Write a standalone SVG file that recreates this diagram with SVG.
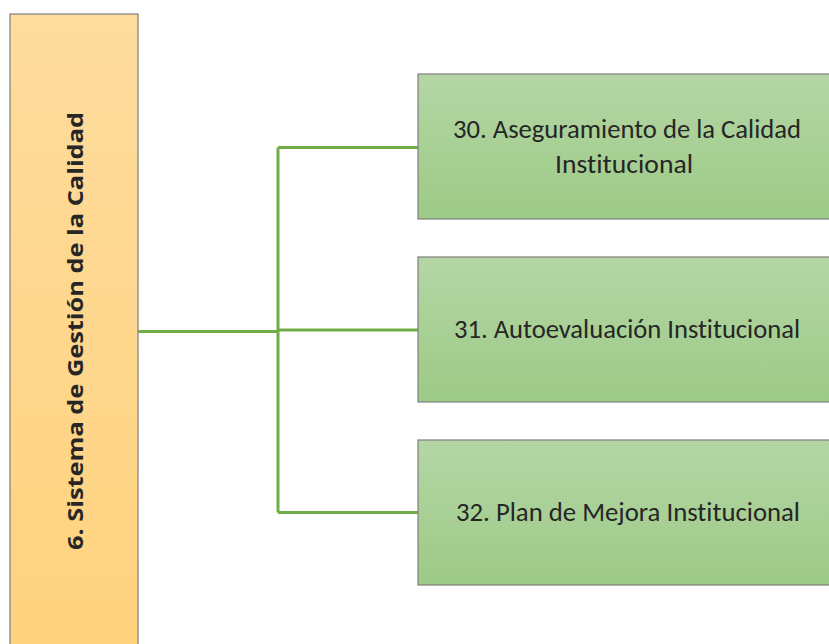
<svg xmlns="http://www.w3.org/2000/svg" width="829" height="644" viewBox="0 0 829 644">
  <defs>
    <linearGradient id="gOrange" x1="0" y1="0" x2="0" y2="1">
      <stop offset="0" stop-color="#FEDC9E"/>
      <stop offset="1" stop-color="#FFD27D"/>
    </linearGradient>
    <linearGradient id="gGreen" x1="0" y1="0" x2="0" y2="1">
      <stop offset="0" stop-color="#B4D6A5"/>
      <stop offset="1" stop-color="#9DCA86"/>
    </linearGradient>
  </defs>
  <style>
    .box { stroke: #7F7F7F; stroke-width: 1.2; }
    .lbl { font-family: Carlito, Lato, "Open Sans", sans-serif; font-size: 26px; fill: #262626; text-anchor: middle; font-variant-ligatures: none; }
    .vlbl { font-family: "Open Sans", "Noto Sans", sans-serif; font-weight: bold; font-size: 21px; fill: #262626; text-anchor: middle; }
    .conn { fill: none; stroke: #70AD47; stroke-width: 3; }
  </style>
  <rect width="829" height="644" fill="#FFFFFF"/>
  <g id="connectors">
    <path class="conn" d="M138,331.5 H278" stroke-width="3.5"/>
    <path class="conn" d="M278,147.5 V512.5"/>
    <path class="conn" d="M278,147.5 H418"/>
    <path class="conn" d="M278,330 H418"/>
    <path class="conn" d="M278,512.5 H418"/>
  </g>
  <g id="node6">
    <rect class="box" x="10" y="14" width="128" height="640" fill="url(#gOrange)"/>
    <text class="vlbl" transform="translate(83,331) rotate(-90)" x="0" y="0" textLength="438" lengthAdjust="spacingAndGlyphs">6. Sistema de Gestión de la Calidad</text>
  </g>
  <g id="node30">
    <rect class="box" x="418" y="74" width="430" height="145" fill="url(#gGreen)"/>
    <text class="lbl" x="627" y="138" textLength="348" lengthAdjust="spacingAndGlyphs">30. Aseguramiento de la Calidad</text>
    <text class="lbl" x="624" y="173" textLength="138" lengthAdjust="spacingAndGlyphs">Institucional</text>
  </g>
  <g id="node31">
    <rect class="box" x="418" y="257" width="430" height="145" fill="url(#gGreen)"/>
    <text class="lbl" x="627" y="338" textLength="346" lengthAdjust="spacingAndGlyphs">31. Autoevaluación Institucional</text>
  </g>
  <g id="node32">
    <rect class="box" x="418" y="440" width="430" height="145" fill="url(#gGreen)"/>
    <text class="lbl" x="628" y="521" textLength="344" lengthAdjust="spacingAndGlyphs">32. Plan de Mejora Institucional</text>
  </g>
</svg>
